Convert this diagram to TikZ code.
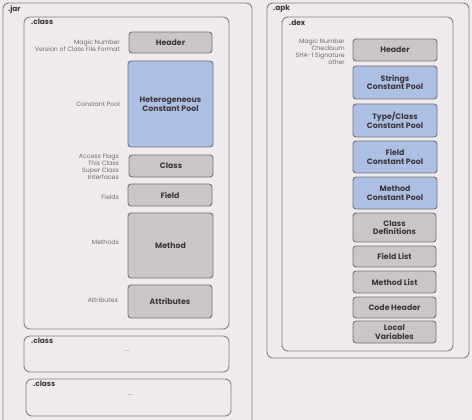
\documentclass[tikz,border=0pt]{standalone}
\usepackage{fontspec}
\setmainfont{Poppins}
\definecolor{bg}{HTML}{EEEAEE}
\definecolor{frame}{HTML}{858185}
\definecolor{boxgray}{HTML}{C9C5C9}
\definecolor{boxedge}{HTML}{767276}
\definecolor{boxblue}{HTML}{ADBFE3}
\definecolor{txt}{HTML}{3A363A}
\definecolor{lbl}{HTML}{6E6A6E}
\tikzset{
  cont/.style={draw=frame, line width=0.9pt, rounded corners=6pt},
  gbox/.style={draw=boxedge, line width=0.9pt, fill=boxgray, rounded corners=3pt},
  bbox/.style={draw=boxedge, line width=0.9pt, fill=boxblue, rounded corners=3pt},
  btxt/.style={font=\fontsize{7.8}{8.6}\selectfont\bfseries, text=txt, align=center, inner sep=0pt},
  side/.style={font=\fontsize{6.2}{7}\selectfont, text=lbl, align=right, anchor=east, inner sep=0pt},
  ctitle/.style={font=\fontsize{7.4}{8.4}\selectfont\bfseries, text=txt, anchor=north west, inner sep=0pt},
  dots/.style={font=\fontsize{6.5}{7}\selectfont, text=lbl, inner sep=0pt}
}
\begin{document}
\begin{tikzpicture}[x=1pt,y=-1pt]
\fill[bg] (0,0) rectangle (472,420);
\useasboundingbox (0,0) rectangle (472,420);
% .jar
\draw[cont] (3,430) -- (3,3) -- (252,3) -- (252,430);
\node[ctitle] (jar) at (8,5) {.jar};
\draw[cont] (24,17) rectangle (229,329);
\node[ctitle] (cls1) at (31,19) {.class};
% jar boxes
\draw[gbox] (129,32) rectangle node[btxt] (hdr) {Header} (212,53);
\draw[bbox] (128,61) rectangle node[btxt] (hcp) {Heterogeneous\\Constant Pool} (213,147);
\draw[gbox] (129,155) rectangle node[btxt] (cl) {Class} (213,177);
\draw[gbox] (128,184) rectangle node[btxt] (fld) {Field} (212,206);
\draw[gbox] (128,213) rectangle node[btxt] (mth) {Method} (213,278);
\draw[gbox] (128,285) rectangle node[btxt] (att) {Attributes} (212,318);
% jar labels
\node[side] (l1) at (120,45.5) {Magic Number\\Version of Class File Format};
\node[side] (l2) at (120,104) {Constant Pool};
\node[side] (l3) at (119,167) {Access Flags\\This Class\\Super Class\\Interfaces};
\node[side] (l4) at (119,197) {Fields};
\node[side] (l5) at (119,242) {Methods};
\node[side] (l6) at (118,300) {Attributes};
% other classes
\draw[cont] (24,336) rectangle (229,372);
\node[ctitle] (cls2) at (31,338) {.class};
\node[dots] (d2) at (127,351) {...};
\draw[cont] (26,379) rectangle (231,416);
\node[ctitle] (cls3) at (33,381) {.class};
\node[dots] (d3) at (130,395) {...};
% .apk
\draw[cont] (267,3) rectangle (469,358);
\node[ctitle] (apk) at (273,5) {.apk};
\draw[cont] (282,17) rectangle (453,351);
\node[ctitle] (dex) at (289,20) {.dex};
\node[side] (r1) at (345,52) {Magic Number\\Checksum\\SHA-1 Signature\\other};
\draw[gbox] (353,39) rectangle node[btxt] (dh) {Header} (437,61);
\draw[bbox] (353,66) rectangle node[btxt] (scp) {Strings\\Constant Pool} (437,99);
\draw[bbox] (353,104) rectangle node[btxt] (tcp) {Type/Class\\Constant Pool} (437,137);
\draw[bbox] (353,141) rectangle node[btxt] (fcp) {Field\\Constant Pool} (437,173);
\draw[bbox] (353,177) rectangle node[btxt] (mcp) {Method\\Constant Pool} (437,209);
\draw[gbox] (353,213) rectangle node[btxt] (cd) {Class\\Definitions} (436,242);
\draw[gbox] (353,246) rectangle node[btxt] (fl) {Field List} (436,267);
\draw[gbox] (353,271) rectangle node[btxt] (ml) {Method List} (436,293);
\draw[gbox] (353,297) rectangle node[btxt] (ch) {Code Header} (436,318);
\draw[gbox] (353,321) rectangle node[btxt] (lv) {Local\\Variables} (436,343);
\end{tikzpicture}
\end{document}
